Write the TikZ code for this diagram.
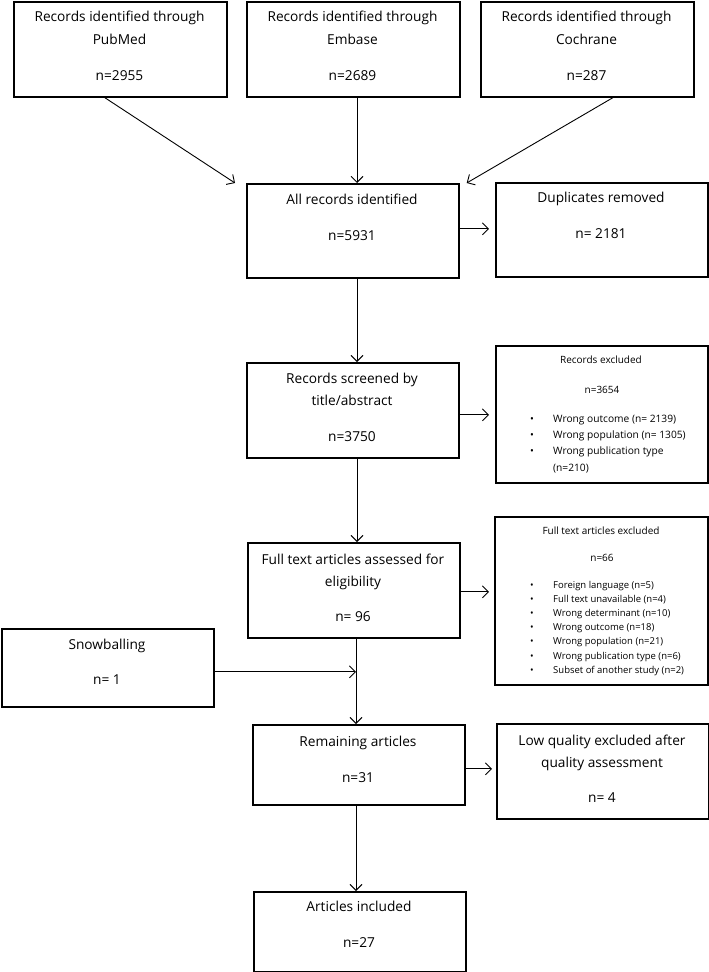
\documentclass[tikz,border=0pt]{standalone}
\usepackage{fontspec}
\setmainfont{Open Sans}
\usetikzlibrary{arrows.meta,calc}
\begin{document}
\begin{tikzpicture}[x=1pt,y=-1pt,
  box/.style={draw=black,line width=1.7pt,anchor=north west,inner sep=0pt},
  lbl/.style={anchor=mid,inner sep=0pt,yshift=-2pt,font=\fontsize{13.7}{16}\selectfont},
  sml/.style={anchor=mid,inner sep=0pt,yshift=-1.5pt,font=\fontsize{10}{12}\selectfont},
  itemA/.style={anchor=mid west,inner sep=0pt,yshift=-1.5pt,font=\fontsize{10.2}{12}\selectfont},
  itemB/.style={anchor=mid west,inner sep=0pt,yshift=-1.5pt,font=\fontsize{9.5}{11}\selectfont},
  bulA/.style={anchor=mid,inner sep=0pt,yshift=-1.5pt,font=\fontsize{10.2}{12}\selectfont},
  bulB/.style={anchor=mid,inner sep=0pt,yshift=-1.5pt,font=\fontsize{9.5}{11}\selectfont},
  arr/.style={draw=black,line width=0.9pt,-{Straight Barb[length=6pt,width=12pt,line width=0.9pt]}}]
\useasboundingbox (0,0) rectangle (709,972);
\fill[white] (0,0) rectangle (709,972);

% boxes
\node[box,minimum width=213,minimum height=95] (pub) at (13,1) {};
\node[box,minimum width=213,minimum height=95] (emb) at (246,1) {};
\node[box,minimum width=213,minimum height=95] (coch) at (480,1) {};
\node[box,minimum width=212,minimum height=94] (all) at (246,183) {};
\node[box,minimum width=212,minimum height=94] (dup) at (495,182) {};
\node[box,minimum width=212,minimum height=95] (scr) at (246,362) {};
\node[box,minimum width=212,minimum height=137] (rex) at (495,345) {};
\node[box,minimum width=212,minimum height=95] (ft) at (247,542) {};
\node[box,minimum width=213,minimum height=168] (fex) at (494,516) {};
\node[box,minimum width=212,minimum height=78] (snow) at (1,628) {};
\node[box,minimum width=212,minimum height=80] (rem) at (252,724) {};
\node[box,minimum width=212,minimum height=95] (low) at (496,723) {};
\node[box,minimum width=212,minimum height=80] (inc) at (253,891) {};

% texts
\node[lbl] (pub1) at (119.5,17) {Records identified through};
\node[lbl] (pub2) at (119.5,40) {PubMed};
\node[lbl] (pub3) at (119.5,76) {n=2955};
\node[lbl] (emb1) at (352.5,17) {Records identified through};
\node[lbl] (emb2) at (352.5,40) {Embase};
\node[lbl] (emb3) at (352.5,76) {n=2689};
\node[lbl] (coch1) at (586.5,17) {Records identified through};
\node[lbl] (coch2) at (586.5,40) {Cochrane};
\node[lbl] (coch3) at (586.5,76) {n=287};
\node[lbl] (all1) at (352,200) {All records identified};
\node[lbl] (all2) at (352,236) {n=5931};
\node[lbl] (dup1) at (601,198) {Duplicates removed};
\node[lbl] (dup2) at (601,234) {n= 2181};
\node[lbl] (scr1) at (352,379) {Records screened by};
\node[lbl] (scr2) at (352,401) {title/abstract};
\node[lbl] (scr3) at (352,437) {n=3750};
\node[sml] (rex1) at (601,359) {Records excluded};
\node[sml] (rex2) at (602,389) {n=3654};
\node[bulA] (rb1) at (532,418) {•};
\node[bulA] (rb2) at (532,434) {•};
\node[bulA] (rb3) at (532,450) {•};
\node[itemA] (ri1) at (553,418) {Wrong outcome (n= 2139)};
\node[itemA] (ri2) at (553,434) {Wrong population (n= 1305)};
\node[itemA] (ri3) at (553,450) {Wrong publication type};
\node[itemA] (ri4) at (553,467) {(n=210)};
\node[lbl] (ft1) at (353,560) {Full text articles assessed for};
\node[lbl] (ft2) at (353,582) {eligibility};
\node[lbl] (ft3) at (353,617) {n= 96};
\node[sml] (fex1) at (601,530) {Full text articles excluded};
\node[sml] (fex2) at (602,557) {n=66};
\foreach \i/\t in {0/Foreign language (n=5),1/Full text unavailable (n=4),2/Wrong determinant (n=10),3/Wrong outcome (n=18),4/Wrong population (n=21),5/Wrong publication type (n=6),6/Subset of another study (n=2)}{
  \node[bulB] (fb\i) at (532,584+14.2*\i) {•};
  \node[itemB] (fi\i) at (553,584+14.2*\i) {\t};
}
\node[lbl] (snow1) at (107,645) {Snowballing};
\node[lbl] (snow2) at (107,680) {n= 1};
\node[lbl] (rem1) at (358,742) {Remaining articles};
\node[lbl] (rem2) at (358,778) {n=31};
\node[lbl] (low1) at (602,741) {Low quality excluded after};
\node[lbl] (low2) at (602,763) {quality assessment};
\node[lbl] (low3) at (602,798) {n= 4};
\node[lbl] (inc1) at (359,907) {Articles included};
\node[lbl] (inc2) at (359,943) {n=27};

% connectors
\coordinate (colA) at (357,0);
\coordinate (colB) at (356,0);
\draw[arr] ($(pub.south)+(-15.5,0)$) -- ($(all.north west)+(-11,0)$);
\draw[arr] (emb.south -| colA) -- (all.north -| colA);
\draw[arr] ($(coch.south)+(25.5,0)$) -- ($(all.north east)+(7,0)$);
\coordinate (a1) at ($(all.east)+(0,-2)$);
\draw[arr] (a1) -- ($(dup.west |- a1)+(-6,0)$);
\draw[arr] (all.south -| colA) -- (scr.north -| colA);
\coordinate (a2) at ($(scr.east)+(0,4.5)$);
\draw[arr] (a2) -- ($(rex.west |- a2)+(-6,0)$);
\draw[arr] (scr.south -| colA) -- (ft.north -| colA);
\coordinate (a3) at ($(ft.east)+(0,1.5)$);
\draw[arr] (a3) -- ($(fex.west |- a3)+(-5,0)$);
\coordinate (s1) at ($(snow.east)+(0,4)$);
\draw[arr] (s1) -- (s1 -| colB);
\draw[arr] (ft.south -| colB) -- (rem.north -| colB);
\coordinate (a4) at ($(rem.east)+(0,4)$);
\draw[arr] (a4) -- ($(low.west |- a4)+(-4,0)$);
\draw[arr] (rem.south -| colB) -- (inc.north -| colB);
\end{tikzpicture}
\end{document}
